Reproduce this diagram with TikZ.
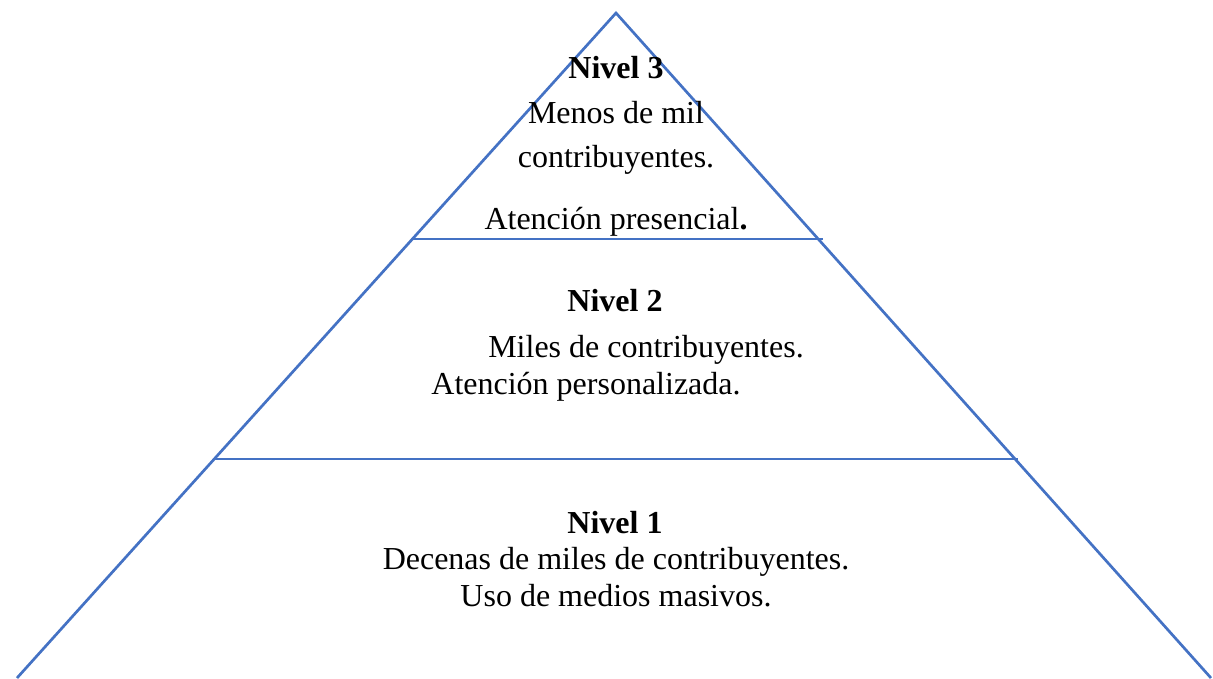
\documentclass[tikz,border=0pt]{standalone}
\usepackage{fontspec}
\setmainfont{Liberation Serif}
\begin{document}
\begin{tikzpicture}[x=1pt,y=-1pt,
  edge/.style={draw={rgb,255:red,68;green,114;blue,196},line width=2.7pt},
  lbl/.style={anchor=base,inner sep=0pt,font=\fontsize{32}{38}\selectfont}]
\useasboundingbox (0,0) rectangle (1213,678);
\coordinate (apex) at (616,13);
\coordinate (bl) at (17,678);
\coordinate (br) at (1211,678);
\coordinate (t3l) at (411,239);
\coordinate (t3r) at (823,239);
\coordinate (t2l) at (215,459);
\coordinate (t2r) at (1018,459);
\draw[edge] (bl) -- (apex) -- (br);
\draw[edge] (t3l) -- (t3r);
\draw[edge] (t2l) -- (t2r);
% level 3
\node[lbl] (n3) at (616,78) {\textbf{Nivel 3}};
\node[lbl] (n3a) at (616,123) {Menos de mil};
\node[lbl] (n3b) at (616,167) {contribuyentes.};
\node[lbl] (n3c) at (616,229) {Atención presencial\textbf{.}};
% level 2
\node[lbl] (n2) at (615,311) {\textbf{Nivel 2}};
\node[lbl] (n2a) at (646,357) {Miles de contribuyentes.};
\node[lbl] (n2b) at (586,394) {Atención personalizada.};
% level 1
\node[lbl] (n1) at (615,533) {\textbf{Nivel 1}};
\node[lbl] (n1a) at (616,569) {Decenas de miles de contribuyentes.};
\node[lbl] (n1b) at (616,606) {Uso de medios masivos.};
\end{tikzpicture}
\end{document}
